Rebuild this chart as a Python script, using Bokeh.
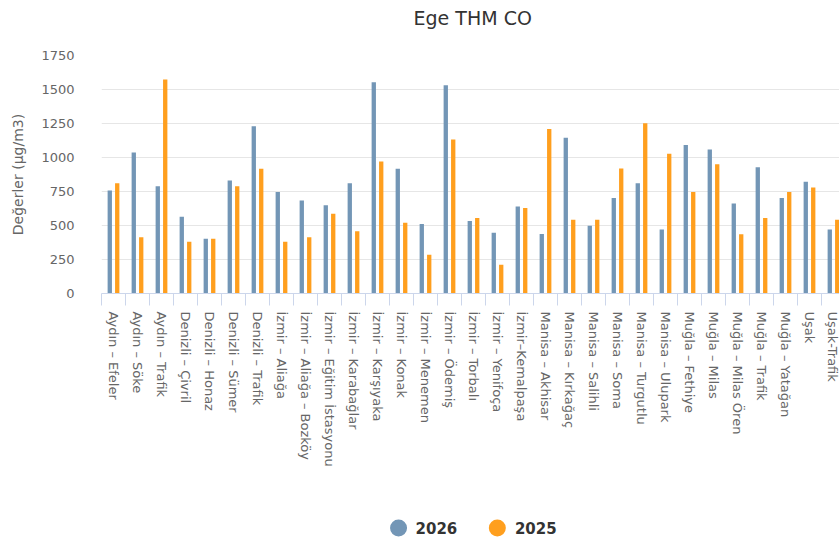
from bokeh.plotting import figure
from bokeh.models import Range1d, FixedTicker, ColumnDataSource
from bokeh.transform import dodge
from bokeh.layouts import column
from bokeh.core.properties import value
from bokeh.embed import file_html
from bokeh.resources import INLINE

stations = [
    "Aydın – Efeler", "Aydın – Söke", "Aydın – Trafik", "Denizli – Çivril",
    "Denizli – Honaz", "Denizli – Sümer", "Denizli – Trafik", "İzmir – Aliağa",
    "İzmir – Aliağa – Bozköy", "İzmir – Eğitim İstasyonu", "İzmir – Karabağlar",
    "İzmir – Karşıyaka", "İzmir – Konak", "İzmir – Menemen", "İzmir – Ödemiş",
    "İzmir – Torbalı", "İzmir – Yenifoça", "İzmir–Kemalpaşa", "Manisa – Akhisar",
    "Manisa – Kırkağaç", "Manisa – Salihli", "Manisa – Soma", "Manisa – Turgutlu",
    "Manisa – Ulupark", "Muğla – Fethiye", "Muğla – Milas", "Muğla – Milas Ören",
    "Muğla – Trafik", "Muğla – Yatağan", "Uşak", "Uşak-Trafik",
]
values_2026 = [757, 1037, 789, 565, 403, 831, 1229, 747, 683, 649, 811, 1553,
               917, 511, 1531, 534, 447, 639, 438, 1146, 499, 703, 811, 470,
               1091, 1059, 661, 929, 703, 821, 470]
values_2025 = [811, 413, 1573, 381, 403, 789, 917, 381, 413, 587, 457, 971,
               521, 285, 1133, 556, 212, 629, 1209, 543, 543, 919, 1251, 1028,
               747, 951, 435, 556, 747, 779, 543]
y_ticks = [0, 250, 500, 750, 1000, 1250, 1500, 1750]
series_names = ["2026", "2025"]
title_text = "Ege THM CO"
y_title = "Değerler (μg/m3)"

BLUE = "#7396B6"
ORANGE = "#FF9F1E"
FONT = "DejaVu Sans"
W = 839

# ---------- title strip ----------
t = figure(width=W, height=34, output_backend="svg", toolbar_location=None,
           x_range=Range1d(0, W), y_range=Range1d(0, 1),
           x_axis_type=None, y_axis_type=None, min_border=0)
t.outline_line_color = None
t.grid.visible = False
t.text(x=[422], y=[0.5], text=[title_text], text_align="center",
       text_baseline="middle", text_font=value(FONT), text_font_size="19px",
       text_color="#333333")

# ---------- main chart ----------
idx = list(range(len(stations)))
source = ColumnDataSource(dict(x=idx, a=values_2026, b=values_2025))

p = figure(width=W, height=477, frame_width=738, frame_height=238,
           output_backend="svg", toolbar_location=None,
           x_range=Range1d(-0.5, 30.25), y_range=Range1d(0, 1750),
           min_border_left=101, min_border_right=0, min_border_top=21,
           min_border_bottom=218)
p.outline_line_color = None
p.background_fill_color = "white"
p.border_fill_color = "white"
p.xgrid.visible = False
p.ygrid.grid_line_color = "#e6e6e6"
p.ygrid.grid_line_width = 1

p.vbar(x=dodge("x", -0.155), top="a", width=0.18, source=source,
       fill_color=BLUE, line_color=None)
p.vbar(x=dodge("x", 0.155), top="b", width=0.18, source=source,
       fill_color=ORANGE, line_color=None)

xa = p.xaxis[0]
xa.ticker = FixedTicker(ticks=idx, minor_ticks=[i - 0.5 for i in range(len(stations) + 1)])
xa.major_label_overrides = {i: s for i, s in enumerate(stations)}
xa.major_label_orientation = "vertical"
xa.major_tick_line_color = None
xa.major_tick_out = 0
xa.major_tick_in = 0
xa.minor_tick_line_color = "#ccd6eb"
xa.minor_tick_out = 12
xa.minor_tick_in = 0
xa.axis_line_color = "#ccd6eb"
xa.major_label_text_font = FONT
xa.major_label_text_font_size = "13px"
xa.major_label_text_color = "#666666"
xa.major_label_standoff = 6

ya = p.yaxis[0]
ya.ticker = FixedTicker(ticks=y_ticks)
ya.axis_line_color = None
ya.major_tick_line_color = None
ya.minor_tick_line_color = None
ya.major_label_text_font = FONT
ya.major_label_text_font_size = "13px"
ya.major_label_text_color = "#666666"
ya.major_label_standoff = 21
ya.axis_label = y_title
ya.axis_label_text_font = FONT
ya.axis_label_text_font_size = "14px"
ya.axis_label_text_font_style = "normal"
ya.axis_label_text_color = "#666666"
ya.axis_label_standoff = 12

# ---------- legend strip ----------
marker_x = [337.7, 450]
label_x = [357, 470]
lg = figure(width=W, height=33, output_backend="svg", toolbar_location=None,
            x_range=Range1d(0, W), y_range=Range1d(0, 1),
            x_axis_type=None, y_axis_type=None, min_border=0)
lg.outline_line_color = None
lg.grid.visible = False
lg.scatter(x=marker_x, y=[0.5, 0.5], marker="circle", size=17,
           fill_color=[BLUE, ORANGE], line_color=None)
lg.text(x=label_x, y=[0.5, 0.5], text=series_names, text_align="left",
        text_baseline="middle", text_font=value(FONT), text_font_size="15px",
        text_font_style="bold", text_color="#333333")

layout = column(t, p, lg, spacing=0)
open("out.html", "w").write(file_html(layout, INLINE))
